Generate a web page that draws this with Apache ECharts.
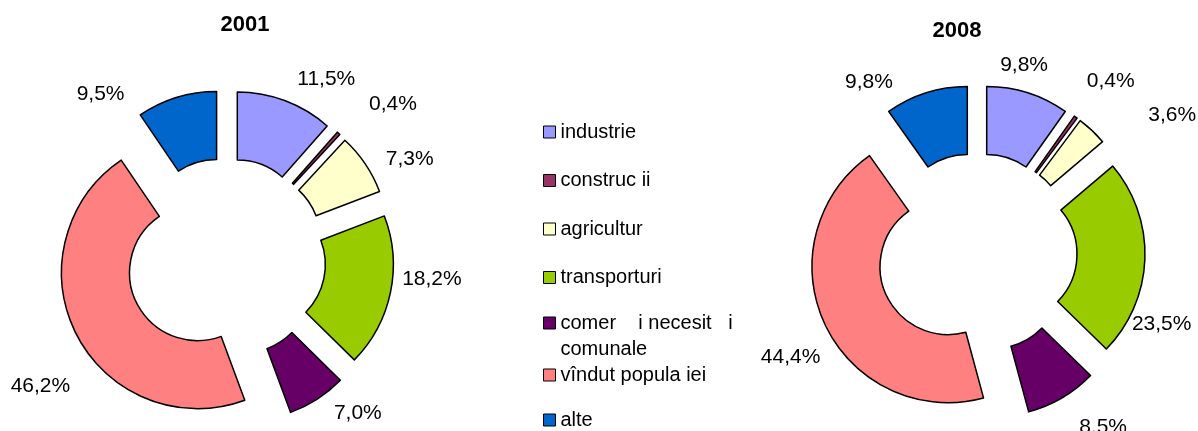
<!DOCTYPE html>
<html>
<head>
<meta charset="utf-8">
<script src="https://cdn.jsdelivr.net/npm/echarts@6/dist/echarts.min.js"></script>
<style>
html, body { margin: 0; padding: 0; background: #fff; }
#main { width: 1198px; height: 431px; }
</style>
</head>
<body>
<div id="main"></div>
<script>
var categories = ['industrie', 'construc ii', 'agricultur', 'transporturi',
    'comer    i necesit   i comunale', 'vîndut popula iei', 'alte'];
var values2001 = [11.5, 0.4, 7.3, 18.2, 7.0, 46.2, 9.5];
var values2008 = [9.8, 0.4, 3.6, 23.5, 8.5, 44.4, 9.8];
var years = ['2001', '2008'];

var palette = ['#9999FF', '#993366', '#FFFFCC', '#99CC00', '#660066', '#FF8080', '#0066CC'];
var font = 'Liberation Sans, Arial, sans-serif';

// nudges [dx, dy] from the default outside label spot, per slice
var labelShift = [
    [[2, -9], [16, -19], [4, 3], [-7, -16], [4, 2], [11, 45], [-43, 10]],
    [[-37, -14], [-1, -26], [34, -18], [-27, 65], [5, 17], [13, 27], [-24, 3]]
];

function pieData(vals) {
    return vals.map(function (v, i) {
        return { name: categories[i], value: v, selected: true };
    });
}

function pctLabel(p) {
    return p.value.toFixed(1).replace('.', ',') + '%';
}

function donut(idx, center, vals) {
    return {
        type: 'pie',
        center: center,
        radius: [68, 136],
        startAngle: 90,
        clockwise: true,
        selectedMode: 'multiple',
        selectedOffset: 32,
        avoidLabelOverlap: true,
        itemStyle: { borderColor: '#000', borderWidth: 1.5 },
        select: { itemStyle: { borderColor: '#000', borderWidth: 1.5 } },
        emphasis: { disabled: true },
        label: {
            show: true,
            position: 'outside',
            formatter: pctLabel,
            width: 80,
            overflow: 'none',
            fontSize: 21,
            fontFamily: font,
            color: '#000'
        },
        labelLine: { show: false, length: 14, length2: 0 },
        labelLayout: function (p) {
            var s = labelShift[idx][p.dataIndex];
            return { dx: s[0], dy: s[1] };
        },
        data: pieData(vals)
    };
}

var legendBase = {
    orient: 'vertical',
    left: 543,
    padding: 0,
    icon: 'rect',
    itemWidth: 12,
    itemHeight: 12,
    selectedMode: false,
    itemStyle: { borderColor: '#000', borderWidth: 1 },
    textStyle: { fontSize: 20, lineHeight: 22, fontFamily: font, color: '#000' }
};

function legendPart(top, gap, names, extra) {
    var l = Object.assign({}, legendBase, { top: top, itemGap: gap, data: names });
    return Object.assign(l, extra || {});
}

var myChart = echarts.init(document.getElementById('main'));
var option = {
    animation: false,
    color: palette,
    title: [{
        text: years[0], left: 245, top: 14, textAlign: 'center', padding: 0,
        textStyle: { fontSize: 22, fontWeight: 'bold', fontFamily: font, color: '#000' }
    }, {
        text: years[1], left: 957, top: 20, textAlign: 'center', padding: 0,
        textStyle: { fontSize: 22, fontWeight: 'bold', fontFamily: font, color: '#000' }
    }],
    legend: [
        legendPart(121, 26.5, categories.slice(0, 4)),
        legendPart(284, 0, [categories[4]], {
            formatter: function (name) { return '\n' + name.replace(' comunale', '\ncomunale'); },
            textStyle: { fontSize: 20, lineHeight: 26, fontFamily: font, color: '#000' }
        }),
        legendPart(365, 25, categories.slice(5), {
            height: 66,
            textStyle: { fontSize: 20, lineHeight: 20, fontFamily: font, color: '#000' }
        })
    ],
    series: [
        donut(0, [226, 258], values2001),
        donut(1, [977, 253], values2008)
    ]
};
myChart.setOption(option, true);
</script>
</body>
</html>
